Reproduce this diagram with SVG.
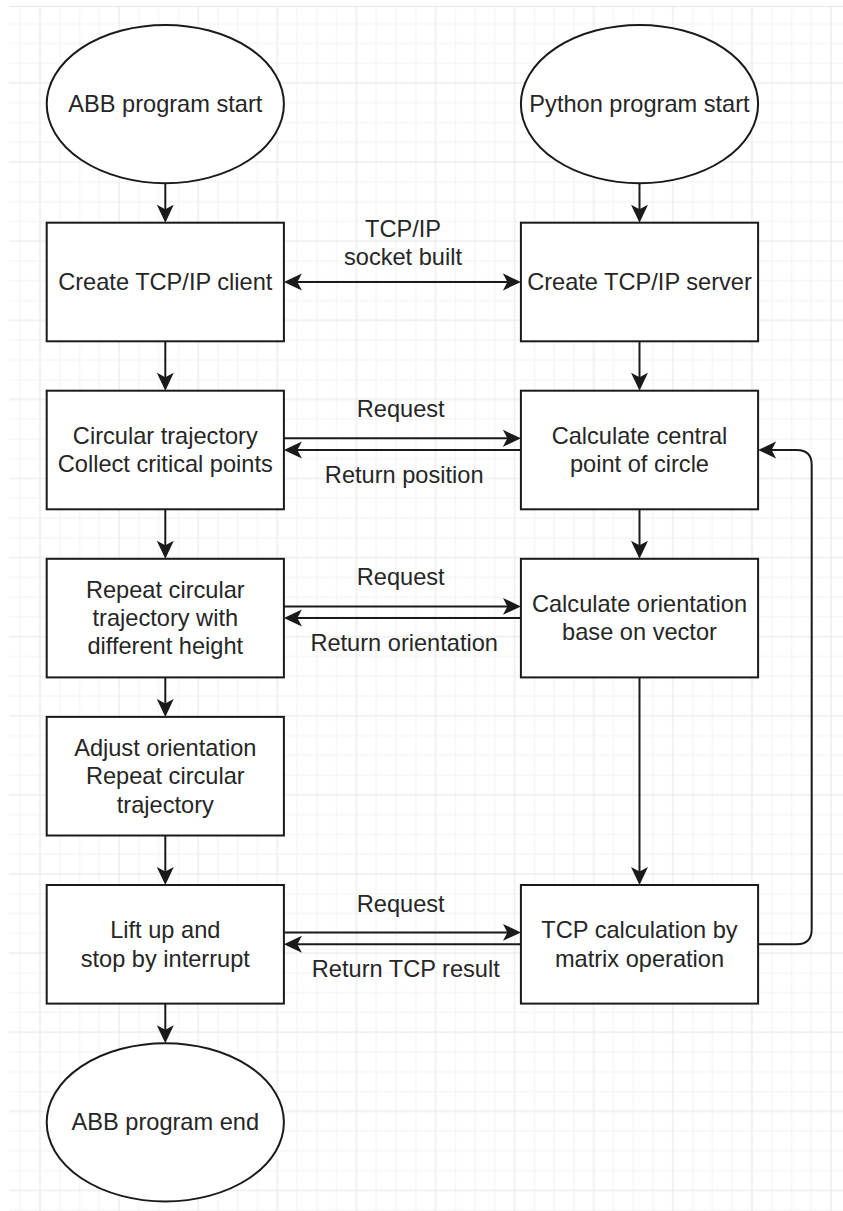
<svg xmlns="http://www.w3.org/2000/svg" width="843" height="1211" viewBox="0 0 843 1211">
  <style>
    .shape { fill: #ffffff; stroke: #1a1a1a; stroke-width: 2; }
    .edge { fill: none; stroke: #1a1a1a; stroke-width: 2; }
    .fwd { marker-end: url(#arrow); }
    .both { marker-start: url(#arrow); marker-end: url(#arrow); }
    text { font-family: "Liberation Sans", Arial, Helvetica, sans-serif; font-size: 23.6px; fill: #262626; text-anchor: middle; }
  </style>
  <defs>
    <!-- drawing grid: minor every 19.78 px, major every 79.1 px -->
    <pattern id="grid" patternUnits="userSpaceOnUse" x="40" y="83" width="79.1" height="79.1">
      <rect x="0" y="0" width="79.1" height="79.1" fill="#ffffff"/>
      <g fill="#f3f3f3">
        <rect x="19.28" y="0" width="1" height="79.1"/>
        <rect x="39.05" y="0" width="1" height="79.1"/>
        <rect x="58.83" y="0" width="1" height="79.1"/>
        <rect x="0" y="19.28" width="79.1" height="1"/>
        <rect x="0" y="39.05" width="79.1" height="1"/>
        <rect x="0" y="58.83" width="79.1" height="1"/>
      </g>
      <g fill="#e6e6e6">
        <rect x="-0.5" y="0" width="1" height="79.1"/>
        <rect x="78.6" y="0" width="1" height="79.1"/>
        <rect x="0" y="-0.5" width="79.1" height="1"/>
        <rect x="0" y="78.6" width="79.1" height="1"/>
      </g>
    </pattern>
    <!-- classic block arrowhead -->
    <marker id="arrow" markerUnits="userSpaceOnUse" markerWidth="20" markerHeight="20" refX="12" refY="9" orient="auto-start-reverse" viewBox="0 0 20 18">
      <path d="M18,9 L0,0.5 L4.5,9 L0,17.5 Z" fill="#1a1a1a"/>
    </marker>
  </defs>

  <rect x="0" y="0" width="843" height="1211" fill="#ffffff"/>
  <rect x="9" y="6" width="834" height="1205" fill="url(#grid)"/>
  <line x1="9" y1="6.5" x2="843" y2="6.5" stroke="#e6e6e6" stroke-width="1"/>

  <g id="connectors">
    <!-- left column flow -->
    <line class="edge fwd" x1="165.3" y1="183.2" x2="165.3" y2="216.7"/>
    <line class="edge fwd" x1="165.3" y1="341.3" x2="165.3" y2="384.7"/>
    <line class="edge fwd" x1="165.3" y1="509.3" x2="165.3" y2="552.8"/>
    <line class="edge fwd" x1="165.3" y1="677.4" x2="165.3" y2="710.9"/>
    <line class="edge fwd" x1="165.3" y1="835.5" x2="165.3" y2="879"/>
    <line class="edge fwd" x1="165.3" y1="1003.6" x2="165.3" y2="1037.2"/>
    <!-- right column flow -->
    <line class="edge fwd" x1="639.5" y1="183.2" x2="639.5" y2="216.7"/>
    <line class="edge fwd" x1="639.5" y1="341.3" x2="639.5" y2="384.7"/>
    <line class="edge fwd" x1="639.5" y1="509.3" x2="639.5" y2="552.8"/>
    <line class="edge fwd" x1="639.5" y1="677.4" x2="639.5" y2="879"/>
    <!-- socket link -->
    <line class="edge both" x1="289.9" y1="282" x2="514.9" y2="282"/>
    <!-- request / reply pairs -->
    <line class="edge fwd" x1="283.9" y1="438.3" x2="514.9" y2="438.3"/>
    <line class="edge fwd" x1="520.9" y1="450" x2="289.9" y2="450"/>
    <line class="edge fwd" x1="283.9" y1="606.4" x2="514.9" y2="606.4"/>
    <line class="edge fwd" x1="520.9" y1="618.1" x2="289.9" y2="618.1"/>
    <line class="edge fwd" x1="283.9" y1="932.4" x2="514.9" y2="932.4"/>
    <line class="edge fwd" x1="520.9" y1="944.3" x2="289.9" y2="944.3"/>
    <!-- loop back from TCP calculation -->
    <path class="edge fwd" d="M758.1,944.3 H796.7 Q811.7,944.3 811.7,929.3 V465 Q811.7,450 796.7,450 H764.1"/>

    <text x="403" y="236.7">TCP/IP</text>
    <text x="403" y="264.7">socket built</text>
    <text x="400.7" y="417.3">Request</text>
    <text x="404.2" y="482.7">Return position</text>
    <text x="400.7" y="585.4">Request</text>
    <text x="404.2" y="650.8">Return orientation</text>
    <text x="400.7" y="911.8">Request</text>
    <text x="405.8" y="976.8">Return TCP result</text>
  </g>

  <g id="abb-start">
    <ellipse class="shape" cx="165.3" cy="104.1" rx="118.6" ry="79.1"/>
    <text x="165.3" y="112">ABB program start</text>
  </g>
  <g id="python-start">
    <ellipse class="shape" cx="639.5" cy="104.1" rx="118.6" ry="79.1"/>
    <text x="639.5" y="112">Python program start</text>
  </g>
  <g id="create-client">
    <rect class="shape" x="46.7" y="222.7" width="237.2" height="118.6"/>
    <text x="165.3" y="290">Create TCP/IP client</text>
  </g>
  <g id="create-server">
    <rect class="shape" x="520.9" y="222.7" width="237.2" height="118.6"/>
    <text x="639.5" y="290">Create TCP/IP server</text>
  </g>
  <g id="circular-trajectory">
    <rect class="shape" x="46.7" y="390.7" width="237.2" height="118.6"/>
    <text x="165.3" y="443.9">Circular trajectory</text>
    <text x="165.3" y="472.2">Collect critical points</text>
  </g>
  <g id="central-point">
    <rect class="shape" x="520.9" y="390.7" width="237.2" height="118.6"/>
    <text x="639.5" y="443.9">Calculate central</text>
    <text x="639.5" y="472.2">point of circle</text>
  </g>
  <g id="repeat-height">
    <rect class="shape" x="46.7" y="558.8" width="237.2" height="118.6"/>
    <text x="165.3" y="597.8">Repeat circular</text>
    <text x="165.3" y="626.1">trajectory with</text>
    <text x="165.3" y="654.4">different height</text>
  </g>
  <g id="orientation-calc">
    <rect class="shape" x="520.9" y="558.8" width="237.2" height="118.6"/>
    <text x="639.5" y="612">Calculate orientation</text>
    <text x="639.5" y="640.3">base on vector</text>
  </g>
  <g id="adjust-orientation">
    <rect class="shape" x="46.7" y="716.9" width="237.2" height="118.6"/>
    <text x="165.3" y="756">Adjust orientation</text>
    <text x="165.3" y="784.3">Repeat circular</text>
    <text x="165.3" y="812.6">trajectory</text>
  </g>
  <g id="lift-up">
    <rect class="shape" x="46.7" y="885" width="237.2" height="118.6"/>
    <text x="165.3" y="938.2">Lift up and</text>
    <text x="165.3" y="966.5">stop by interrupt</text>
  </g>
  <g id="tcp-calc">
    <rect class="shape" x="520.9" y="885" width="237.2" height="118.6"/>
    <text x="639.5" y="938.2">TCP calculation by</text>
    <text x="639.5" y="966.5">matrix operation</text>
  </g>
  <g id="abb-end">
    <ellipse class="shape" cx="165.3" cy="1122.3" rx="118.6" ry="79.1"/>
    <text x="165.3" y="1130.2">ABB program end</text>
  </g>
</svg>
